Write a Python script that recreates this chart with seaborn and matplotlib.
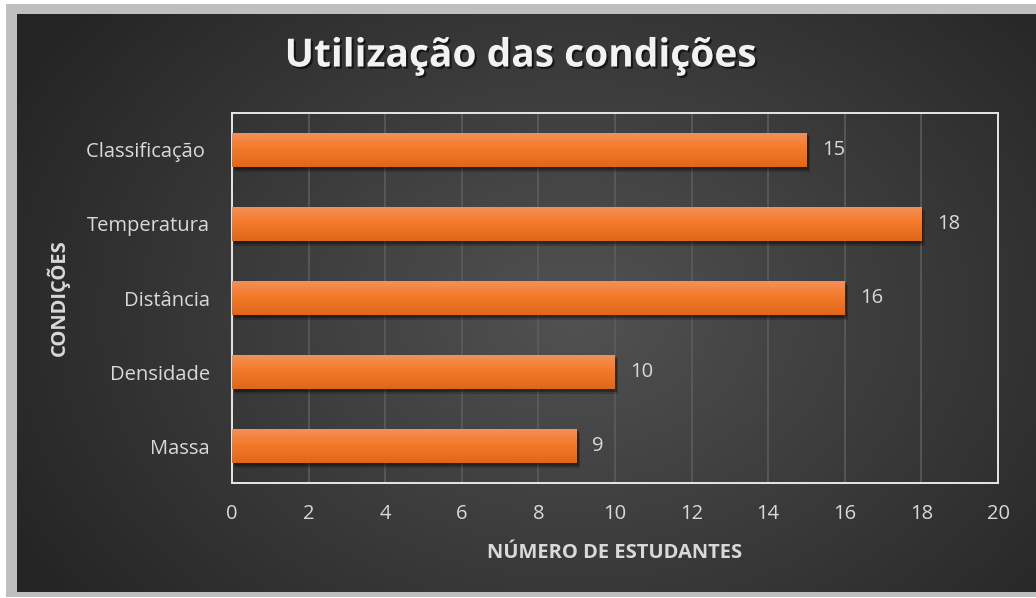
import numpy as np
import pandas as pd
import matplotlib
matplotlib.use("Agg")
import matplotlib.pyplot as plt
import matplotlib.patheffects as pe
import seaborn as sns

# Chart data
categories = ["Classificação ", "Temperatura", "Distância", "Densidade", "Massa"]
students = [15, 18, 16, 10, 9]
x_ticks = [0, 2, 4, 6, 8, 10, 12, 14, 16, 18, 20]

title = "Utilização das condições"
x_label = "NÚMERO DE ESTUDANTES"
y_label = "CONDIÇÕES"

df = pd.DataFrame({"condicao": categories, "estudantes": students})

sns.set_theme(style="dark")
plt.rcParams["font.family"] = ["Open Sans", "DejaVu Sans"]

W, H = 1036, 598
fig = plt.figure(figsize=(W / 100, H / 100), dpi=100)
fig.patch.set_facecolor("white")

# Grey frame + dark radial background
frame = fig.add_axes([6 / W, 1 - 597 / H, 1 - 6 / W, (597 - 4) / H], zorder=-2)
frame.set_facecolor("#bfbfbf")
frame.set_xticks([])
frame.set_yticks([])
for s in frame.spines.values():
    s.set_visible(False)

bg = fig.add_axes([17 / W, 1 - 592 / H, 1 - 17 / W, (592 - 14) / H], zorder=-1)
gx, gy = np.meshgrid(np.linspace(0, 1019, 400), np.linspace(0, 578, 240))
dist = np.sqrt(((gx - 560) / 620) ** 2 + ((gy - 300) / 470) ** 2)
shade = np.clip(0.32 - 0.17 * dist, 0.145, 0.325)
bg.imshow(np.dstack([shade] * 3), aspect="auto", extent=[0, 1, 0, 1])
bg.set_axis_off()

ax = fig.add_axes([232 / W, 1 - 483 / H, (998 - 232) / W, (483 - 113) / H], zorder=1)
ax.set_facecolor("none")

sns.barplot(data=df, x="estudantes", y="condicao", orient="h",
            color="#f47b2b", width=0.47, linewidth=0, ax=ax, zorder=3)

ax.set_xlim(0, 20)
xlim, ylim = ax.get_xlim(), ax.get_ylim()

# gradient fill + soft shadow on each bar
grad = np.linspace(0, 1, 64)[:, None]
top_c = np.array([0.95, 0.57, 0.36])
mid_c = np.array([0.96, 0.48, 0.17])
bot_c = np.array([0.88, 0.40, 0.10])
rgb = np.where(grad < 0.45,
               top_c + (mid_c - top_c) * (grad / 0.45),
               mid_c + (bot_c - mid_c) * ((grad - 0.45) / 0.55))
img = np.repeat(rgb[:, None, :], 2, axis=1)
for bar in ax.patches:
    bar.set_path_effects([pe.SimplePatchShadow(offset=(2.5, -3.5), shadow_rgbFace="black", alpha=0.2),
                          pe.SimplePatchShadow(offset=(1.5, -2), shadow_rgbFace="black", alpha=0.3),
                          pe.Normal()])
    x0, y0 = bar.get_x(), bar.get_y()
    im = ax.imshow(img, extent=[x0, x0 + bar.get_width(), y0 + bar.get_height(), y0],
                   aspect="auto", origin="upper", zorder=4, interpolation="bilinear")
    im.set_clip_path(bar)
ax.set_xlim(xlim)
ax.set_ylim(ylim)

# value labels
for i, v in enumerate(students):
    ax.text(v + 0.4, i, str(v), va="center", ha="left", fontsize=14.5, color="#d9d9d9", zorder=5)

ax.set_xticks(x_ticks)
ax.grid(axis="x", color="#5e5e5e", linewidth=1.1, zorder=1)
ax.grid(axis="y", visible=False)
ax.tick_params(axis="both", length=0, labelsize=14.5, labelcolor="#d9d9d9")
ax.tick_params(axis="x", pad=15)
ax.tick_params(axis="y", pad=16)
for s in ax.spines.values():
    s.set_visible(True)
    s.set_color("#e6e6e6")
    s.set_linewidth(1.4)

ax.set_xlabel(x_label, fontsize=14.5, fontweight="bold", color="#d9d9d9")
ax.set_ylabel(y_label, fontsize=14.5, fontweight="bold", color="#d9d9d9")
ax.xaxis.set_label_coords(0.5, -0.19)
ax.xaxis.label.set_va("center")
ax.yaxis.set_label_coords(-0.2265, 0.5)
ax.yaxis.label.set_va("center")

fig.text(520 / W, 1 - 56 / H, title, ha="center", va="center", fontsize=28,
         fontweight="bold", color="#f2f2f2",
         path_effects=[pe.withSimplePatchShadow(offset=(1.5, -1.5), shadow_rgbFace="black", alpha=0.6)])

fig.savefig("out.png", dpi=100)
